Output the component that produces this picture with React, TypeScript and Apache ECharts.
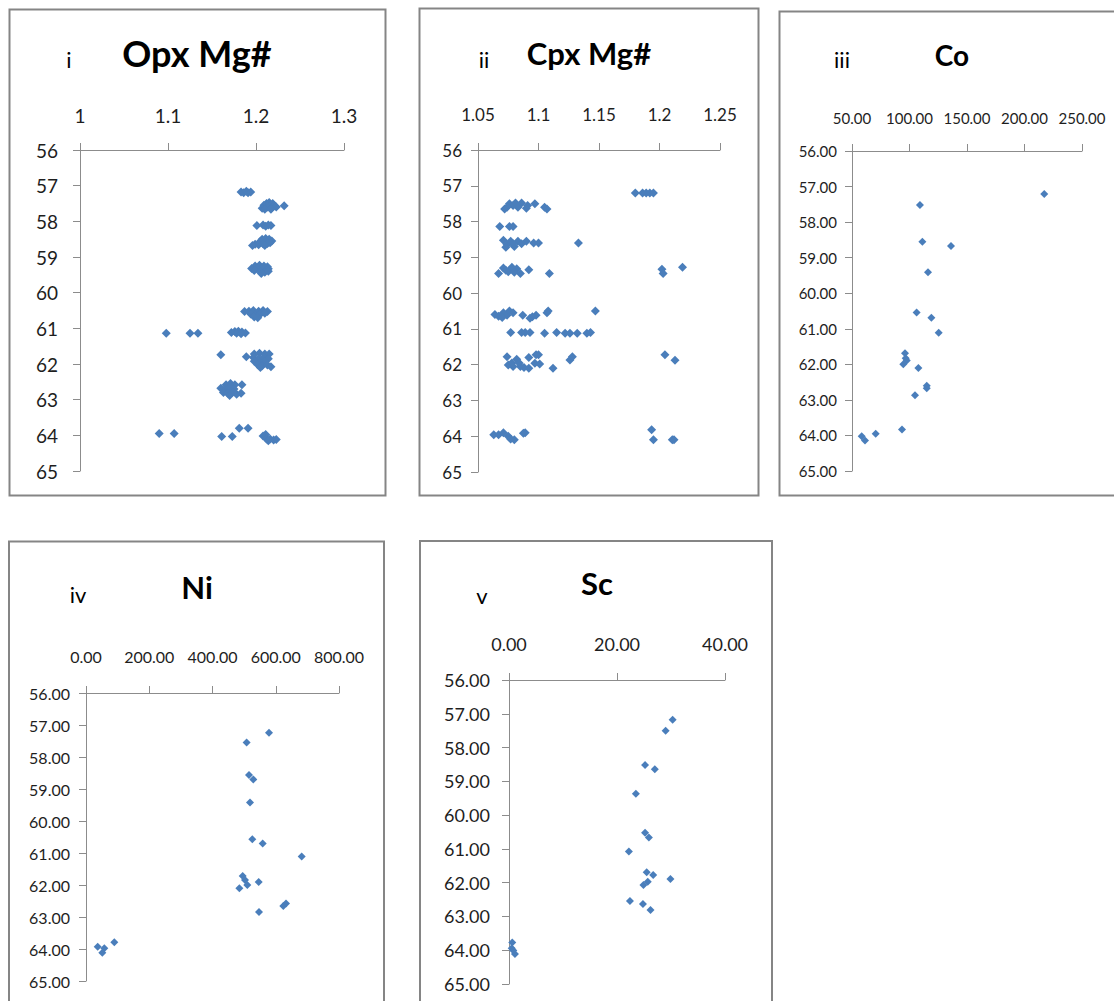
import React, { useEffect, useRef } from "react";
import * as echarts from "echarts";

// ---------- data: [x value, depth] ----------
const opxPoints: number[][] = [
  [1.183, 57.18], [1.186, 57.2], [1.189, 57.16], [1.191, 57.2], [1.194, 57.18],
  [1.207, 57.63], [1.209, 57.55], [1.212, 57.5], [1.213, 57.6], [1.215, 57.47], [1.216, 57.56], [1.218, 57.62],
  [1.219, 57.5], [1.221, 57.56], [1.223, 57.6], [1.21, 57.66], [1.217, 57.66], [1.232, 57.56],
  [1.201, 58.12], [1.208, 58.1], [1.211, 58.14], [1.214, 58.1], [1.217, 58.12],
  [1.207, 58.5], [1.211, 58.48], [1.215, 58.5], [1.218, 58.55], [1.205, 58.56], [1.212, 58.58], [1.199, 58.64],
  [1.203, 58.66], [1.208, 58.63], [1.213, 58.62], [1.216, 58.6], [1.196, 58.68], [1.21, 58.68],
  [1.199, 59.25], [1.204, 59.23], [1.209, 59.25], [1.213, 59.27], [1.195, 59.32], [1.201, 59.33], [1.207, 59.31],
  [1.214, 59.33], [1.198, 59.38], [1.205, 59.4], [1.21, 59.43], [1.214, 59.4], [1.206, 59.46],
  [1.187, 60.53], [1.192, 60.52], [1.197, 60.5], [1.203, 60.52], [1.208, 60.5], [1.213, 60.53], [1.194, 60.6],
  [1.199, 60.62], [1.205, 60.6], [1.21, 60.58], [1.198, 60.68], [1.202, 60.7],
  [1.098, 61.14], [1.125, 61.14], [1.134, 61.14], [1.172, 61.12], [1.176, 61.09], [1.18, 61.08], [1.184, 61.1],
  [1.188, 61.13], [1.178, 61.14], [1.183, 61.15],
  [1.16, 61.74], [1.198, 61.72], [1.204, 61.7], [1.21, 61.72], [1.215, 61.72], [1.189, 61.8], [1.197, 61.82],
  [1.203, 61.85], [1.209, 61.82], [1.214, 61.85], [1.198, 61.92], [1.204, 61.95], [1.21, 61.93], [1.202, 62.02],
  [1.207, 62.05], [1.213, 62.03], [1.217, 62.08], [1.205, 62.1],
  [1.166, 62.58], [1.171, 62.55], [1.176, 62.58], [1.184, 62.58], [1.16, 62.68], [1.165, 62.7], [1.17, 62.66],
  [1.175, 62.7], [1.163, 62.8], [1.168, 62.82], [1.173, 62.8], [1.178, 62.85], [1.183, 62.82], [1.17, 62.88],
  [1.09, 63.95], [1.107, 63.95], [1.161, 64.03], [1.173, 64.03], [1.181, 63.8], [1.191, 63.8],
  [1.208, 64.02], [1.211, 63.98], [1.212, 64.1], [1.216, 64.1], [1.22, 64.13], [1.223, 64.12], [1.214, 64.15],
];

const cpxPoints: number[][] = [
  [1.18, 57.2], [1.186, 57.2], [1.189, 57.2], [1.192, 57.2], [1.195, 57.2],
  [1.072, 57.65], [1.076, 57.5], [1.079, 57.55], [1.083, 57.6], [1.086, 57.48], [1.09, 57.63], [1.091, 57.55],
  [1.097, 57.5], [1.105, 57.6], [1.107, 57.65], [1.074, 57.6], [1.081, 57.48],
  [1.068, 58.14], [1.076, 58.14], [1.079, 58.14],
  [1.071, 58.52], [1.074, 58.65], [1.077, 58.55], [1.08, 58.7], [1.083, 58.55], [1.086, 58.62], [1.09, 58.55],
  [1.096, 58.6], [1.1, 58.6], [1.133, 58.6], [1.073, 58.72], [1.079, 58.62],
  [1.067, 59.45], [1.071, 59.3], [1.075, 59.4], [1.078, 59.28], [1.082, 59.32], [1.085, 59.45], [1.092, 59.35],
  [1.109, 59.45], [1.202, 59.33], [1.203, 59.45], [1.219, 59.28], [1.073, 59.36], [1.08, 59.42],
  [1.064, 60.6], [1.067, 60.65], [1.071, 60.55], [1.074, 60.62], [1.076, 60.5], [1.079, 60.55], [1.087, 60.62],
  [1.093, 60.7], [1.098, 60.62], [1.107, 60.55], [1.108, 60.5], [1.147, 60.5], [1.07, 60.68], [1.095, 60.66],
  [1.077, 61.1], [1.086, 61.1], [1.089, 61.1], [1.093, 61.1], [1.105, 61.12], [1.115, 61.1], [1.122, 61.12],
  [1.126, 61.12], [1.132, 61.12], [1.14, 61.12], [1.143, 61.1],
  [1.074, 61.78], [1.075, 62.01], [1.079, 62.05], [1.082, 61.85], [1.085, 62.05], [1.092, 61.8], [1.092, 62.1],
  [1.097, 61.96], [1.1, 61.72], [1.112, 62.1], [1.126, 61.87], [1.128, 61.78], [1.2045, 61.72], [1.2128, 61.88],
  [1.078, 61.95], [1.084, 61.95], [1.088, 62.08], [1.101, 61.98], [1.098, 61.72],
  [1.063, 63.96], [1.067, 63.96], [1.071, 63.9], [1.075, 64.0], [1.08, 64.1], [1.089, 63.9], [1.0875, 63.92],
  [1.1935, 63.82], [1.195, 64.1], [1.2106, 64.1], [1.212, 64.1], [1.077, 64.08],
];

const coPoints: number[][] = [
  [217.2, 57.21], [109.1, 57.52], [111.2, 58.55], [136.1, 58.67], [116.1, 59.41], [106.2, 60.54], [119, 60.69],
  [125.4, 61.11], [96.1, 61.69], [96.7, 61.83], [97.6, 61.89], [94.6, 62.0], [107.7, 62.1], [115, 62.6],
  [115, 62.67], [104.8, 62.87], [93.5, 63.83], [70.6, 63.95], [58.4, 64.02], [61.3, 64.14],
];

const niPoints: number[][] = [
  [578.7, 57.24], [508, 57.55], [515.4, 58.56], [529, 58.7], [518.6, 59.42], [525.9, 60.57], [558.6, 60.7],
  [682, 61.11], [495.4, 61.72], [502.8, 61.84], [510, 62.0], [484.9, 62.1], [546, 61.91], [624, 62.66],
  [632.4, 62.58], [547, 62.84], [89.6, 63.79], [36.9, 63.93], [57.9, 63.98], [51.6, 64.12],
];

const scPoints: number[][] = [
  [30.3, 57.18], [29.0, 57.5], [25.2, 58.52], [27.0, 58.64], [23.5, 59.37], [25.2, 60.52], [25.9, 60.66],
  [22.2, 61.08], [25.5, 61.69], [26.7, 61.77], [25.7, 61.97], [24.9, 62.07], [29.9, 61.89], [22.4, 62.54],
  [24.8, 62.63], [26.2, 62.81], [0.6, 63.77], [0.5, 63.94], [1.1, 64.11], [0.8, 64.01],
];

// ---------- tick labels ----------
const opxTicks = ["1", "1.1", "1.2", "1.3"];
const cpxTicks = ["1.05", "1.1", "1.15", "1.2", "1.25"];
const coTicks = ["50.00", "100.00", "150.00", "200.00", "250.00"];
const niTicks = ["0.00", "200.00", "400.00", "600.00", "800.00"];
const scTicks = ["0.00", "20.00", "40.00"];
const depthTicksShort = ["56", "57", "58", "59", "60", "61", "62", "63", "64", "65"];
const depthTicksLong = ["56.00", "57.00", "58.00", "59.00", "60.00", "61.00", "62.00", "63.00", "64.00", "65.00"];

const titles = ["Opx Mg#", "Cpx Mg#", "Co", "Ni", "Sc"];
const numerals = ["i", "ii", "iii", "iv", "v"];

const FONT = "Lato, 'Open Sans', sans-serif";
const AXIS_COLOR = "#8c8c8c";
const MARK_COLOR = "#4a7ebb";

export default function App() {
  const ref = useRef<HTMLDivElement>(null);

  useEffect(() => {
    if (!ref.current) return;
    const chart = echarts.init(ref.current, undefined, { renderer: "svg" });

    const panels = [
      { grid: { left: 80, top: 150, width: 264, height: 321 }, xmin: 1, xmax: 1.3, xint: 0.1, xt: opxTicks, yt: depthTicksShort, fs: 19, xm: 25, ym: 22, data: opxPoints, sz: 9 },
      { grid: { left: 478, top: 150, width: 242, height: 322 }, xmin: 1.05, xmax: 1.25, xint: 0.05, xt: cpxTicks, yt: depthTicksShort, fs: 17, xm: 27, ym: 16, data: cpxPoints, sz: 9 },
      { grid: { left: 852, top: 151, width: 230, height: 320 }, xmin: 50, xmax: 250, xint: 50, xt: coTicks, yt: depthTicksLong, fs: 15, xm: 26, ym: 15, data: coPoints, sz: 8 },
      { grid: { left: 86, top: 693, width: 253, height: 288 }, xmin: 0, xmax: 800, xint: 200, xt: niTicks, yt: depthTicksLong, fs: 16, xm: 29, ym: 16, data: niPoints, sz: 8 },
      { grid: { left: 509, top: 680, width: 216, height: 304 }, xmin: 0, xmax: 40, xint: 20, xt: scTicks, yt: depthTicksLong, fs: 18, xm: 27, ym: 19, data: scPoints, sz: 8 },
    ];

    const grids = panels.map((p) => ({ ...p.grid, containLabel: false }));
    const xAxes = panels.map((p, i) => ({
      type: "value",
      gridIndex: i,
      position: "top",
      min: p.xmin,
      max: p.xmax,
      interval: p.xint,
      axisLine: { show: true, onZero: false, lineStyle: { color: AXIS_COLOR, width: 1 } },
      axisTick: { show: true, inside: false, length: 7, lineStyle: { color: AXIS_COLOR } },
      splitLine: { show: false },
      axisLabel: {
        fontSize: p.fs,
        fontFamily: FONT,
        color: "#1e1e1e",
        margin: p.xm,
        formatter: (v: number) => p.xt[Math.round((v - p.xmin) / p.xint)] ?? "",
      },
    }));
    const yAxes = panels.map((p, i) => ({
      type: "value",
      gridIndex: i,
      inverse: true,
      min: 56,
      max: 65,
      interval: 1,
      axisLine: { show: true, onZero: false, lineStyle: { color: AXIS_COLOR, width: 1 } },
      axisTick: { show: true, inside: false, length: 7, lineStyle: { color: AXIS_COLOR } },
      splitLine: { show: false },
      axisLabel: {
        fontSize: p.fs,
        fontFamily: FONT,
        color: "#1e1e1e",
        margin: p.ym,
        formatter: (v: number) => p.yt[Math.round(v - 56)] ?? "",
      },
    }));
    const series = panels.map((p, i) => ({
      type: "scatter",
      xAxisIndex: i,
      yAxisIndex: i,
      symbol: "diamond",
      symbolSize: p.sz,
      itemStyle: { color: MARK_COLOR, opacity: 1 },
      data: p.data,
    }));

    const borders = [
      { x: 9.5, y: 9.5, w: 376, h: 486 },
      { x: 419.5, y: 8.5, w: 339, h: 487 },
      { x: 779.5, y: 11.5, w: 360, h: 484 },
      { x: 9, y: 541.5, w: 375, h: 480 },
      { x: 420, y: 541, w: 352, h: 480 },
    ];
    const titlePos = [
      { x: 197, y: 53, fs: 36 },
      { x: 589, y: 53, fs: 31 },
      { x: 952, y: 55, fs: 28 },
      { x: 197, y: 587, fs: 31 },
      { x: 597, y: 583, fs: 31 },
    ];
    const numPos = [
      { x: 69, y: 59 },
      { x: 484, y: 59 },
      { x: 842, y: 59 },
      { x: 78, y: 594 },
      { x: 482, y: 595 },
    ];

    const graphic: any[] = [];
    borders.forEach((b) => {
      graphic.push({
        type: "rect",
        shape: { x: b.x, y: b.y, width: b.w, height: b.h },
        style: { fill: "none", stroke: "#858585", lineWidth: 2 },
        silent: true,
      });
    });
    titles.forEach((t, i) => {
      graphic.push({
        type: "text",
        x: titlePos[i].x,
        y: titlePos[i].y,
        style: {
          text: t,
          fill: "#000",
          font: `bold ${titlePos[i].fs}px ${FONT}`,
          textAlign: "center",
          textVerticalAlign: "middle",
        },
      });
    });
    numerals.forEach((t, i) => {
      graphic.push({
        type: "text",
        x: numPos[i].x,
        y: numPos[i].y,
        style: {
          text: t,
          fill: "#000",
          font: `22px ${FONT}`,
          textAlign: "center",
          textVerticalAlign: "middle",
        },
      });
    });

    chart.setOption({
      animation: false,
      backgroundColor: "#fff",
      grid: grids,
      xAxis: xAxes,
      yAxis: yAxes,
      series,
      graphic,
    });

    return () => chart.dispose();
  }, []);

  return (
    <div
      ref={ref}
      style={{ position: "absolute", left: 0, top: 0, width: 1114, height: 1001, background: "#fff" }}
    />
  );
}
